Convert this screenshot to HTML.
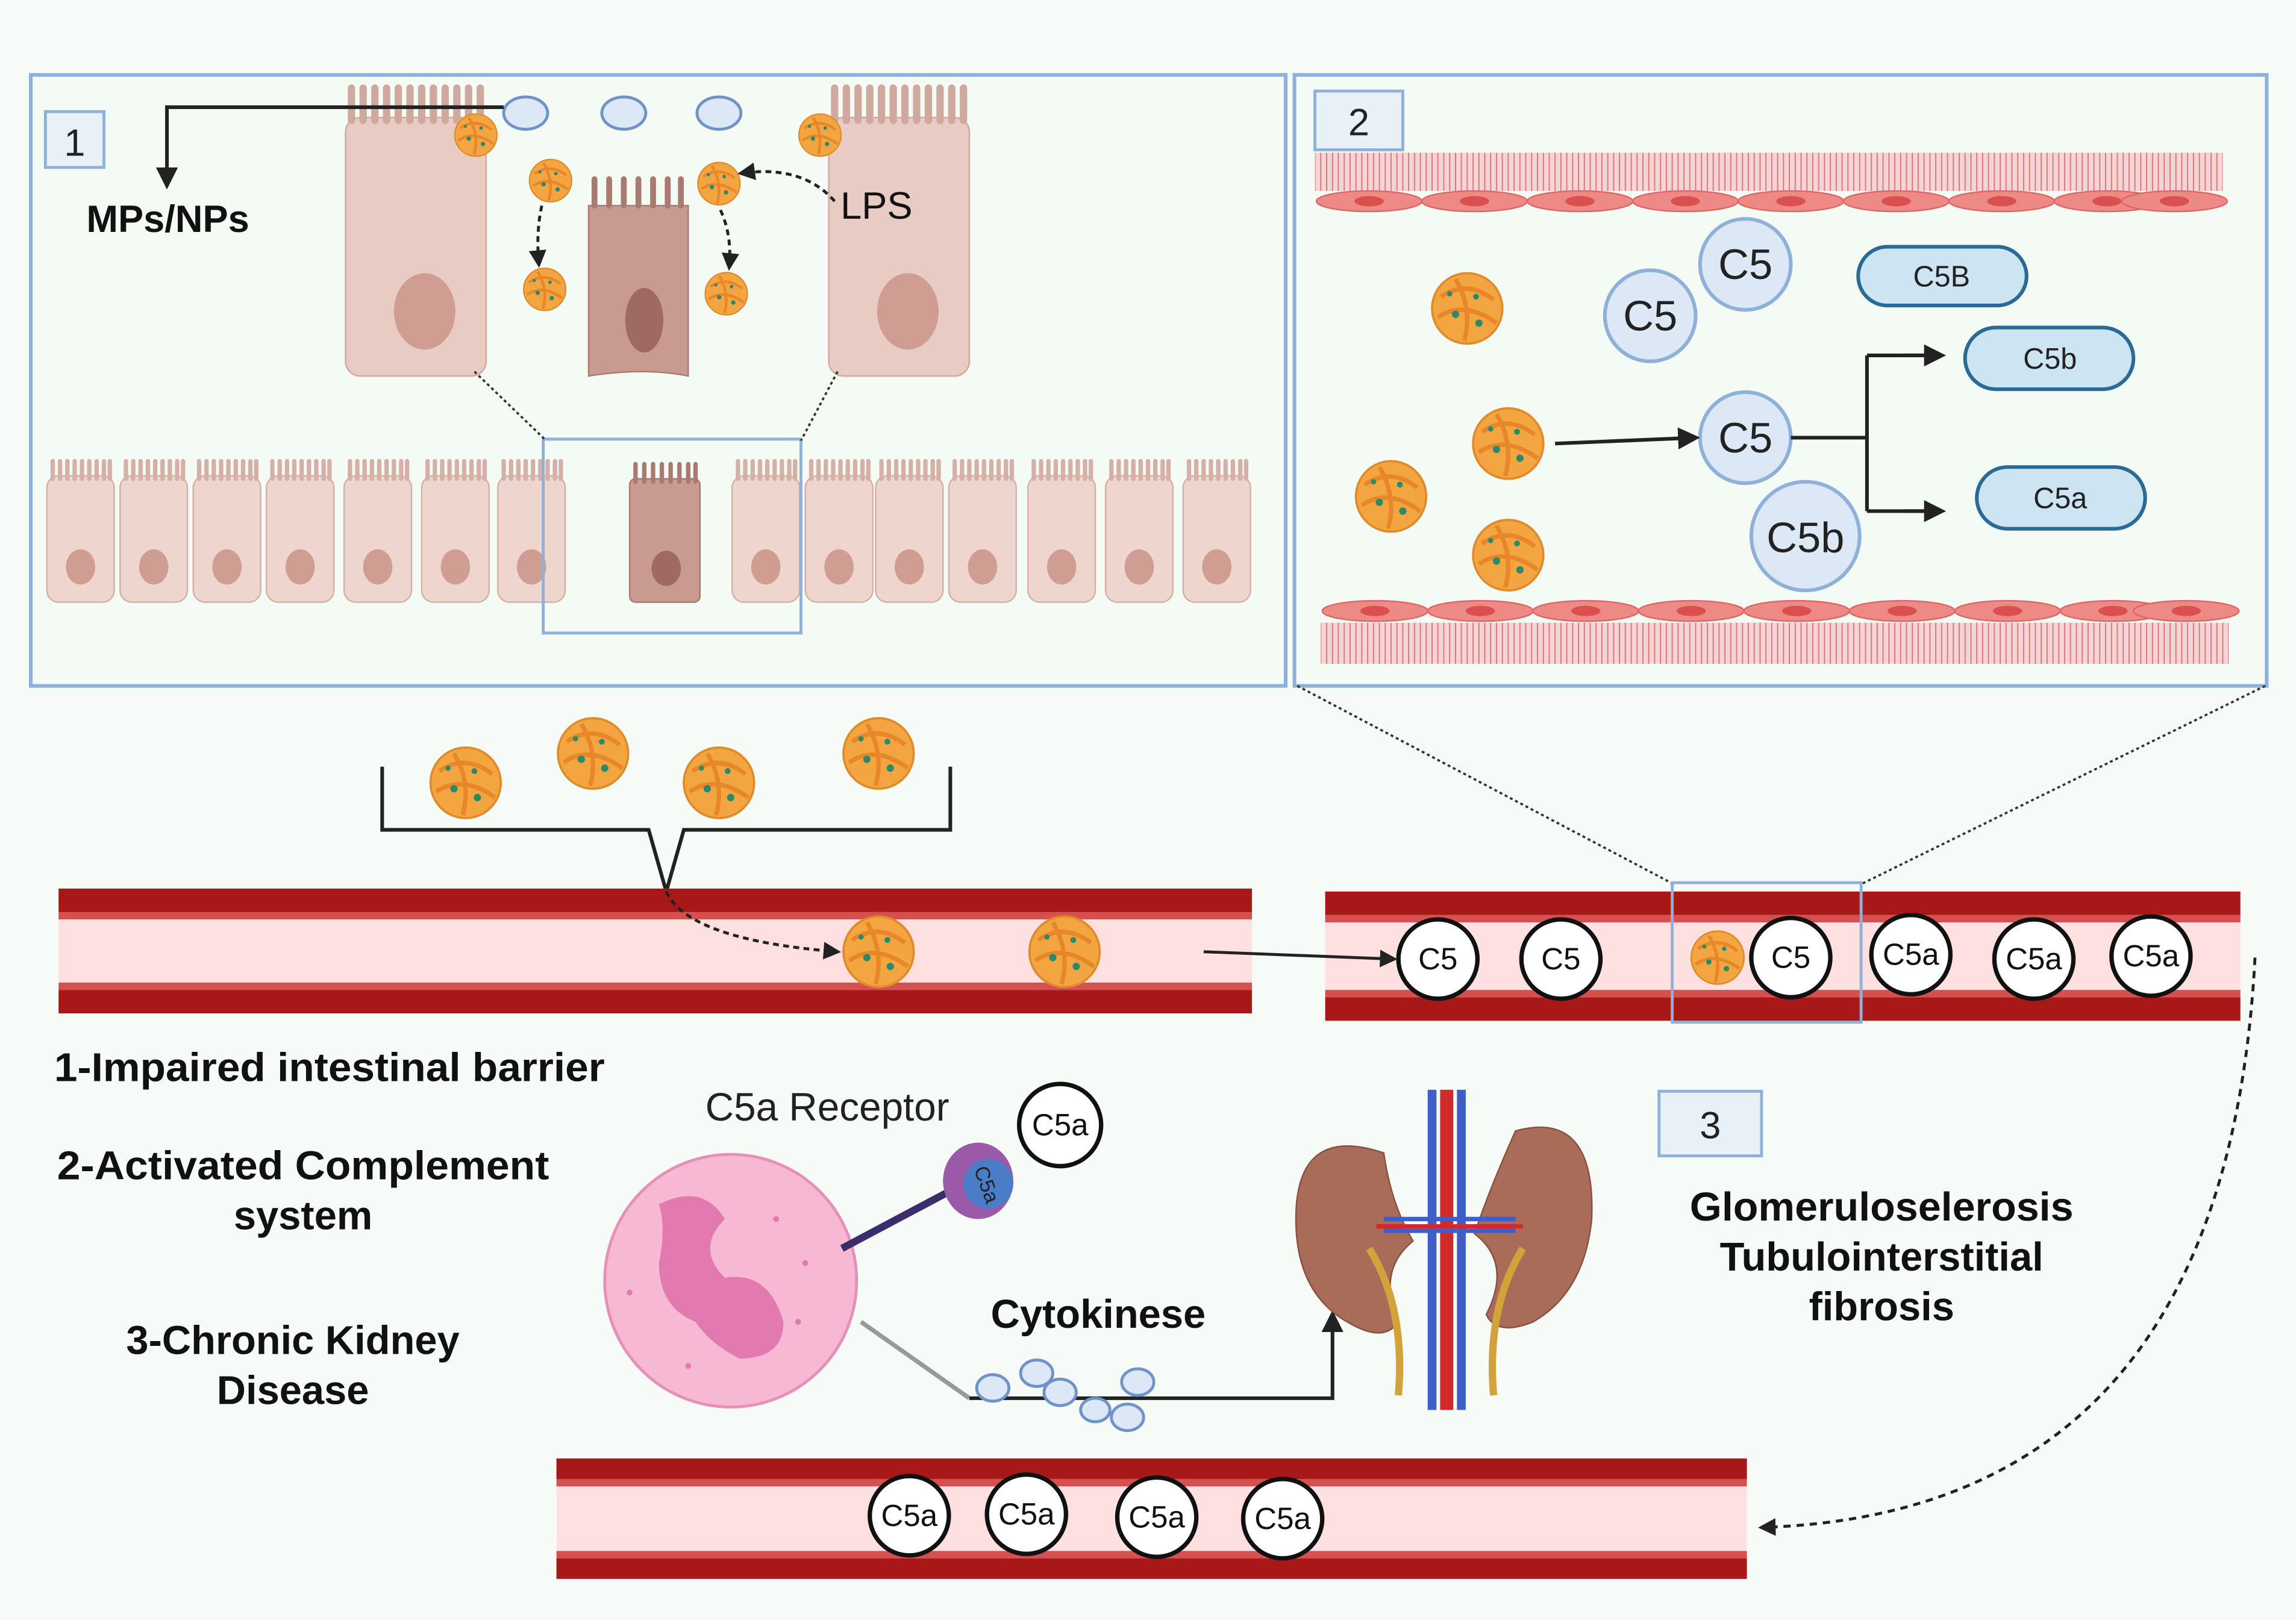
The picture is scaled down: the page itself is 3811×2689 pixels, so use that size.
<!DOCTYPE html>
<html><head><meta charset="utf-8"><style>
html,body{margin:0;padding:0;background:#fff;}
svg{display:block;}
text{font-family:"Liberation Sans",sans-serif;}
</style></head><body>
<svg width="3811" height="2689" viewBox="0 0 1568 1103" preserveAspectRatio="none" xmlns="http://www.w3.org/2000/svg">
<defs>
<g id="p">
<circle r="24" fill="#f2a541" stroke="#e08a2a" stroke-width="1.5"/>
<path d="M-18,-8 Q0,-20 18,-6 M-20,6 Q-2,-6 20,10 M-8,-20 Q4,0 -2,22" stroke="#e8862a" stroke-width="3" fill="none"/>
<circle cx="-8" cy="4" r="2.5" fill="#2a8a6a"/><circle cx="6" cy="-8" r="2" fill="#2a8a6a"/><circle cx="8" cy="10" r="2.5" fill="#2a8a6a"/><circle cx="-12" cy="-10" r="1.8" fill="#2a8a6a"/>
</g>
<g id="cell">
<rect x="0" y="12" width="46" height="86" rx="8" fill="#eed5cd" stroke="#d4b0a6"/>
<path d="M4,14 v-12 M9,14 v-12 M14,14 v-12 M19,14 v-12 M24,14 v-12 M29,14 v-12 M34,14 v-12 M39,14 v-12 M43,14 v-12" stroke="#d4b0a6" stroke-width="3" stroke-linecap="round"/>
<ellipse cx="23" cy="74" rx="10" ry="12" fill="#cf9d92"/>
</g>
<g id="endo"><ellipse cx="35" cy="0" rx="36" ry="7" fill="#ee8a86" stroke="#d66"/><ellipse cx="35" cy="0" rx="10" ry="3.5" fill="#d9504e"/></g>
<marker id="ah" viewBox="0 0 10 10" refX="8" refY="5" markerWidth="6" markerHeight="6" orient="auto"><path d="M0,0L10,5L0,10z" fill="#222"/></marker>
<pattern id="mem" width="4" height="8" patternUnits="userSpaceOnUse"><rect width="4" height="8" fill="#f4d4d4"/><path d="M2,0v8" stroke="#d77" stroke-width="0.8"/></pattern>
</defs>
<rect width="1568" height="1103" fill="#f7fbf7"/>
<!-- panel 1 -->
<rect x="21" y="51" width="857" height="416" fill="#f4faf4" stroke="#8fb0d8" stroke-width="2.5"/>
<rect x="31" y="76" width="40" height="38" fill="#e8f0f8" stroke="#8fb0d8" stroke-width="2"/>
<text x="51" y="106" font-size="26" text-anchor="middle" fill="#222">1</text>
<rect x="236" y="80" width="96" height="176" rx="10" fill="#e8cbc2" stroke="#cfa89e"/>
<path d="M240,82 v-22 M248,82 v-22 M256,82 v-22 M264,82 v-22 M272,82 v-22 M280,82 v-22 M288,82 v-22 M296,82 v-22 M304,82 v-22 M312,82 v-22 M320,82 v-22 M328,82 v-22" stroke="#cfa89e" stroke-width="5" stroke-linecap="round"/>
<ellipse cx="290" cy="212" rx="21" ry="26" fill="#cf9d92"/>
<rect x="566" y="80" width="96" height="176" rx="10" fill="#e8cbc2" stroke="#cfa89e"/>
<path d="M570,82 v-22 M578,82 v-22 M586,82 v-22 M594,82 v-22 M602,82 v-22 M610,82 v-22 M618,82 v-22 M626,82 v-22 M634,82 v-22 M642,82 v-22 M650,82 v-22 M658,82 v-22" stroke="#cfa89e" stroke-width="5" stroke-linecap="round"/>
<ellipse cx="620" cy="212" rx="21" ry="26" fill="#cf9d92"/>
<path d="M402,140 h68 v116 q-30,-6 -68,0z" fill="#c99a8f" stroke="#a97a70"/>
<path d="M406,140 v-18 M416,140 v-18 M426,140 v-18 M436,140 v-18 M446,140 v-18 M456,140 v-18 M465,140 v-18" stroke="#a97a70" stroke-width="4" stroke-linecap="round"/>
<ellipse cx="440" cy="218" rx="13" ry="22" fill="#9e6a62"/>
<ellipse cx="359" cy="77" rx="15" ry="11" fill="#dce8f6" stroke="#6f93c8" stroke-width="2"/>
<ellipse cx="426" cy="77" rx="15" ry="11" fill="#dce8f6" stroke="#6f93c8" stroke-width="2"/>
<ellipse cx="491" cy="77" rx="15" ry="11" fill="#dce8f6" stroke="#6f93c8" stroke-width="2"/>
<use href="#p" transform="translate(325,92) scale(.6)"/>
<use href="#p" transform="translate(376,123) scale(.6)"/>
<use href="#p" transform="translate(372,197) scale(.6)"/>
<use href="#p" transform="translate(491,125) scale(.6)"/>
<use href="#p" transform="translate(496,200) scale(.6)"/>
<use href="#p" transform="translate(560,92) scale(.6)"/>
<path d="M344,73 H114 V126" stroke="#222" stroke-width="2.5" fill="none" marker-end="url(#ah)"/>
<text x="59" y="158" font-size="26" font-weight="bold" fill="#111">MPs/NPs</text>
<path d="M370,140 Q366,158 368,180" stroke="#222" stroke-width="2" stroke-dasharray="4,3" fill="none" marker-end="url(#ah)"/>
<path d="M492,143 Q500,160 498,182" stroke="#222" stroke-width="2" stroke-dasharray="4,3" fill="none" marker-end="url(#ah)"/>
<path d="M570,137 Q548,112 506,118" stroke="#222" stroke-width="2" stroke-dasharray="4,3" fill="none" marker-end="url(#ah)"/>
<text x="574" y="149" font-size="26" fill="#111">LPS</text>
<g>
<use href="#cell" transform="translate(32,312)"/><use href="#cell" transform="translate(82,312)"/><use href="#cell" transform="translate(132,312)"/><use href="#cell" transform="translate(182,312)"/><use href="#cell" transform="translate(235,312)"/><use href="#cell" transform="translate(288,312)"/><use href="#cell" transform="translate(340,312)"/>
<use href="#cell" transform="translate(500,312)"/><use href="#cell" transform="translate(550,312)"/><use href="#cell" transform="translate(598,312)"/><use href="#cell" transform="translate(648,312)"/><use href="#cell" transform="translate(702,312)"/><use href="#cell" transform="translate(755,312)"/><use href="#cell" transform="translate(808,312)"/>
<rect x="430" y="326" width="48" height="84" rx="4" fill="#c99a8f" stroke="#a97a70"/>
<path d="M434,328 v-12 M440,328 v-12 M446,328 v-12 M452,328 v-12 M458,328 v-12 M464,328 v-12 M470,328 v-12 M475,328 v-12" stroke="#a97a70" stroke-width="3" stroke-linecap="round"/>
<ellipse cx="455" cy="387" rx="10" ry="12" fill="#9e6a62"/>
</g>
<rect x="371" y="299" width="176" height="132" fill="none" stroke="#8fb0d8" stroke-width="2"/>
<path d="M324,253 L373,300 M572,253 L547,300" stroke="#333" stroke-width="1.5" stroke-dasharray="2,2"/>
<!-- panel 2 -->
<rect x="884" y="51" width="664" height="416" fill="#f4faf4" stroke="#8fb0d8" stroke-width="2.5"/>
<rect x="898" y="62" width="60" height="40" fill="#e8f0f8" stroke="#8fb0d8" stroke-width="2"/>
<text x="928" y="92" font-size="26" text-anchor="middle" fill="#222">2</text>
<rect x="898" y="104" width="620" height="26" fill="url(#mem)"/>
<g>
<use href="#endo" transform="translate(900,137)"/><use href="#endo" transform="translate(972,137)"/><use href="#endo" transform="translate(1044,137)"/><use href="#endo" transform="translate(1116,137)"/><use href="#endo" transform="translate(1188,137)"/><use href="#endo" transform="translate(1260,137)"/><use href="#endo" transform="translate(1332,137)"/><use href="#endo" transform="translate(1404,137)"/><use href="#endo" transform="translate(1450,137)"/>
</g>
<rect x="902" y="424" width="620" height="28" fill="url(#mem)"/>
<g>
<use href="#endo" transform="translate(904,416)"/><use href="#endo" transform="translate(976,416)"/><use href="#endo" transform="translate(1048,416)"/><use href="#endo" transform="translate(1120,416)"/><use href="#endo" transform="translate(1192,416)"/><use href="#endo" transform="translate(1264,416)"/><use href="#endo" transform="translate(1336,416)"/><use href="#endo" transform="translate(1408,416)"/><use href="#endo" transform="translate(1458,416)"/>
</g>
<g fill="#dce8f6" stroke="#8fb0d8" stroke-width="2.5">
<circle cx="1192" cy="180" r="31"/><circle cx="1127" cy="215" r="31"/><circle cx="1192" cy="298" r="31"/><circle cx="1233" cy="365" r="37"/>
</g>
<g font-size="29" text-anchor="middle" fill="#222">
<text x="1192" y="190">C5</text><text x="1127" y="225">C5</text><text x="1192" y="308">C5</text><text x="1233" y="376">C5b</text>
</g>
<g fill="#cde4f2" stroke="#2a6a95" stroke-width="2.5">
<rect x="1269" y="168" width="115" height="40" rx="20"/><rect x="1342" y="223" width="115" height="42" rx="21"/><rect x="1350" y="318" width="115" height="42" rx="21"/>
</g>
<g font-size="20" text-anchor="middle" fill="#222">
<text x="1326" y="195">C5B</text><text x="1400" y="251">C5b</text><text x="1407" y="346">C5a</text>
</g>
<use href="#p" transform="translate(1002,210)"/>
<use href="#p" transform="translate(1030,302)"/>
<use href="#p" transform="translate(950,338)"/>
<use href="#p" transform="translate(1030,378)"/>
<path d="M1062,302 L1158,298" stroke="#222" stroke-width="2.5" marker-end="url(#ah)"/>
<path d="M1223,298 H1275 M1275,242 V348 M1275,242 H1325 M1275,348 H1325" stroke="#222" stroke-width="2.5" fill="none"/>
<path d="M1300,242 H1326" stroke="#222" stroke-width="2.5" marker-end="url(#ah)"/>
<path d="M1300,348 H1326" stroke="#222" stroke-width="2.5" marker-end="url(#ah)"/>
<path d="M886,467 L1143,602 M1547,467 L1271,602" stroke="#333" stroke-width="1.5" stroke-dasharray="2,2"/>
<path d="M261,522 V565 H443 L455,607 L467,565 H649 V522" stroke="#222" stroke-width="2.5" fill="none"/>
<use href="#p" transform="translate(318,533)"/><use href="#p" transform="translate(405,513)"/><use href="#p" transform="translate(491,533)"/><use href="#p" transform="translate(600,513)"/>
<g>
<rect x="40" y="605" width="815" height="85" fill="#ffe0e0"/>
<rect x="40" y="605" width="815" height="16" fill="#a81818"/><rect x="40" y="621" width="815" height="5" fill="#d65050"/>
<rect x="40" y="674" width="815" height="16" fill="#a81818"/><rect x="40" y="669" width="815" height="5" fill="#d65050"/>
</g>
<g>
<rect x="905" y="607" width="625" height="88" fill="#ffe0e0"/>
<rect x="905" y="607" width="625" height="16" fill="#a81818"/><rect x="905" y="623" width="625" height="5" fill="#d65050"/>
<rect x="905" y="679" width="625" height="16" fill="#a81818"/><rect x="905" y="674" width="625" height="5" fill="#d65050"/>
</g>
<g>
<rect x="380" y="993" width="813" height="82" fill="#ffe0e0"/>
<rect x="380" y="993" width="813" height="14" fill="#a81818"/><rect x="380" y="1007" width="813" height="5" fill="#d65050"/>
<rect x="380" y="1061" width="813" height="14" fill="#a81818"/><rect x="380" y="1056" width="813" height="5" fill="#d65050"/>
</g>
<path d="M455,607 Q470,640 572,648" stroke="#222" stroke-width="2" stroke-dasharray="4,3" fill="none" marker-end="url(#ah)"/>
<use href="#p" transform="translate(600,648)"/><use href="#p" transform="translate(727,648)"/>
<path d="M822,648 L952,653" stroke="#222" stroke-width="2" marker-end="url(#ah)"/>
<use href="#p" transform="translate(1173,652) scale(.75)"/>
<g fill="#fff" stroke="#111" stroke-width="3">
<circle cx="982" cy="653" r="27"/><circle cx="1066" cy="653" r="27"/><circle cx="1223" cy="652" r="27"/><circle cx="1305" cy="650" r="27"/><circle cx="1389" cy="653" r="27"/><circle cx="1469" cy="651" r="27"/>
<circle cx="621" cy="1032" r="27"/><circle cx="701" cy="1031" r="27"/><circle cx="790" cy="1033" r="27"/><circle cx="876" cy="1034" r="27"/>
<circle cx="724" cy="766" r="28"/>
</g>
<g font-size="21" text-anchor="middle" fill="#111">
<text x="982" y="660">C5</text><text x="1066" y="660">C5</text><text x="1223" y="659">C5</text><text x="1305" y="657">C5a</text><text x="1389" y="660">C5a</text><text x="1469" y="658">C5a</text>
<text x="621" y="1039">C5a</text><text x="701" y="1038">C5a</text><text x="790" y="1040">C5a</text><text x="876" y="1041">C5a</text>
<text x="724" y="773">C5a</text>
</g>
<rect x="1142" y="601" width="129" height="95" fill="none" stroke="#8fb0d8" stroke-width="2"/>
<path d="M1540,652 Q1520,1030 1203,1040" stroke="#222" stroke-width="2" stroke-dasharray="5,4" fill="none" marker-end="url(#ah)"/>
<g font-size="27.5" font-weight="bold" fill="#111" text-anchor="middle">
<text x="225" y="736" textLength="376" lengthAdjust="spacingAndGlyphs">1-Impaired intestinal barrier</text>
<text x="207" y="803" textLength="336" lengthAdjust="spacingAndGlyphs">2-Activated Complement</text>
<text x="207" y="837">system</text>
<text x="200" y="922">3-Chronic Kidney</text>
<text x="200" y="956">Disease</text>
<text x="750" y="904">Cytokinese</text>
<text x="1285" y="831" textLength="262" lengthAdjust="spacingAndGlyphs">Glomeruloselerosis</text>
<text x="1285" y="865">Tubulointerstitial</text>
<text x="1285" y="899">fibrosis</text>
</g>
<text x="565" y="763" font-size="27" fill="#222" text-anchor="middle">C5a Receptor</text>
<rect x="1133" y="743" width="70" height="44" fill="#e8f0f8" stroke="#8fb0d8" stroke-width="2"/>
<text x="1168" y="775" font-size="26" text-anchor="middle" fill="#222">3</text>
<circle cx="499" cy="872" r="86" fill="#f7b8d4" stroke="#e690b8" stroke-width="2"/>
<path d="M450,820 q30,-15 45,10 q-20,20 0,40 q30,-5 40,30 q0,25 -30,25 q-20,-10 -30,-25 q-25,-10 -25,-40 q5,-25 0,-40z" fill="#e27ab0"/>
<g fill="#e27ab0"><circle cx="530" cy="830" r="2"/><circle cx="550" cy="860" r="2"/><circle cx="470" cy="930" r="2"/><circle cx="545" cy="900" r="2"/><circle cx="430" cy="880" r="2"/></g>
<path d="M575,850 L660,805" stroke="#3b2d6b" stroke-width="5"/>
<ellipse cx="668" cy="804" rx="24" ry="26" fill="#9b5aa8"/>
<circle cx="675" cy="806" r="17" fill="#4a7cc8"/>
<text x="675" y="812" font-size="14" fill="#222" text-anchor="middle" transform="rotate(70 675 806)">C5a</text>
<path d="M588,900 L662,952" stroke="#999" stroke-width="3"/>
<path d="M662,952 H910 V895" stroke="#222" stroke-width="2.5" fill="none" marker-end="url(#ah)"/>
<g fill="#dce8f6" stroke="#6f93c8" stroke-width="2">
<ellipse cx="678" cy="945" rx="11" ry="9"/><ellipse cx="708" cy="935" rx="11" ry="9"/><ellipse cx="724" cy="948" rx="11" ry="9"/><ellipse cx="748" cy="960" rx="10" ry="8"/><ellipse cx="770" cy="965" rx="11" ry="9"/><ellipse cx="777" cy="941" rx="11" ry="9"/>
</g>
<path d="M945,785 q-60,-20 -60,45 q0,50 35,70 q25,15 35,0 q-15,-35 10,-55 q-15,-25 -20,-60z" fill="#a86c58" stroke="#8a5040"/>
<path d="M1035,770 q55,-15 52,60 q-5,50 -40,70 q-25,10 -32,-5 q18,-35 -8,-55 q10,-30 28,-70z" fill="#a86c58" stroke="#8a5040"/>
<path d="M978,742 V960 M998,742 V960" stroke="#3f5fc8" stroke-width="6"/>
<path d="M988,742 V960" stroke="#d02a2a" stroke-width="9"/>
<path d="M945,838 L1035,838 M945,830 L1035,830" stroke="#3f5fc8" stroke-width="3"/>
<path d="M940,835 H1040" stroke="#d02a2a" stroke-width="3"/>
<path d="M935,850 Q960,890 955,950 M1040,850 Q1015,890 1020,950" stroke="#d4a23a" stroke-width="5" fill="none"/>
</svg>
</body></html>
